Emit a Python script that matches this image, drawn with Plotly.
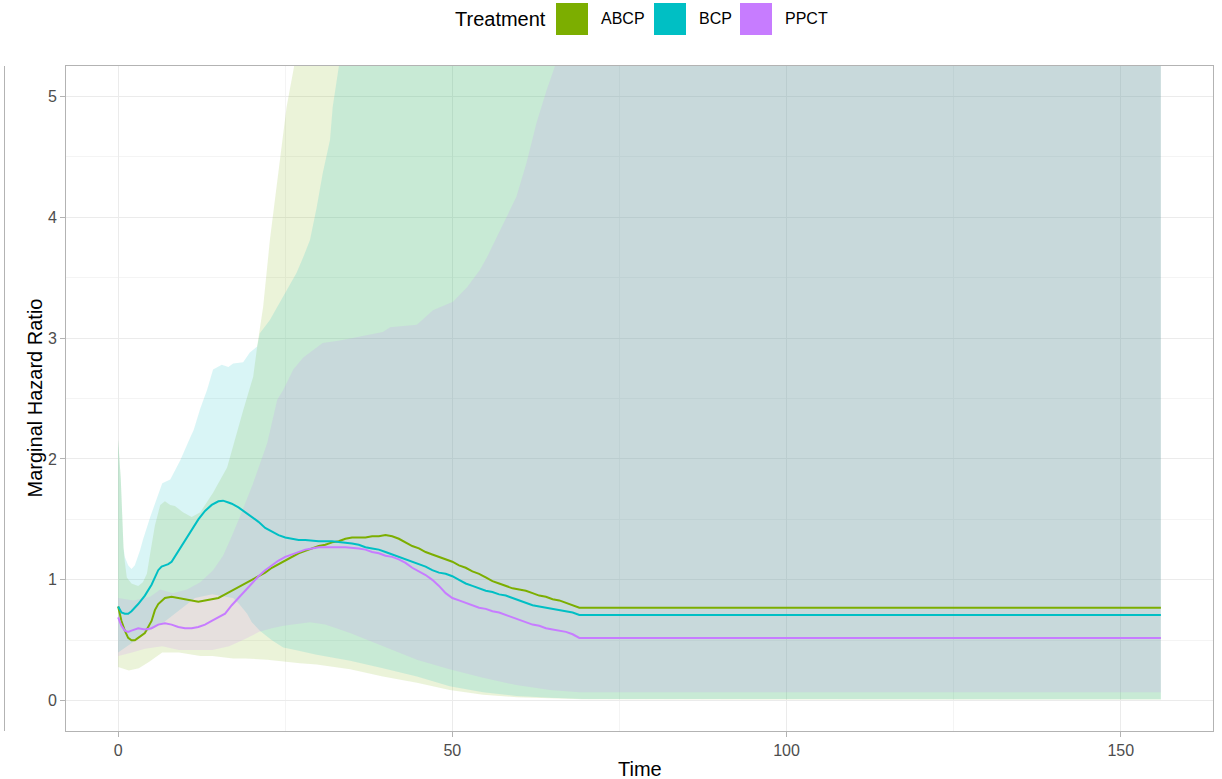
import plotly.graph_objects as go

# ---------------- data ----------------
treatments = ["ABCP", "BCP", "PPCT"]
colors = {"ABCP": "#7CAE00", "BCP": "#00BFC4", "PPCT": "#C77CFF"}
fill_alpha = 0.15

# point estimates
abcp_t = [0, 0.5, 1, 1.5, 2, 2.5, 3, 4, 5, 5.5, 6, 7, 8, 9, 10, 11, 12, 13, 14, 15, 16, 17, 18, 19, 20,
          21, 22, 23, 24, 25, 26, 27, 28, 29, 30, 31, 32, 33, 34, 35, 36, 37, 38, 39, 40, 41, 42, 43, 44,
          45, 46, 47, 48, 49, 50, 51, 52, 53, 54, 55, 56, 57, 58, 59, 60, 61, 62, 63, 64, 65, 66, 67, 68,
          69, 156]
abcp_est = [0.78, 0.66, 0.58, 0.52, 0.50, 0.50, 0.52, 0.56, 0.66, 0.75, 0.80, 0.85, 0.86, 0.85, 0.84,
            0.83, 0.82, 0.83, 0.84, 0.85, 0.88, 0.91, 0.94, 0.97, 1.00, 1.03, 1.06, 1.10, 1.13, 1.16,
            1.19, 1.22, 1.24, 1.26, 1.28, 1.29, 1.31, 1.32, 1.34, 1.35, 1.35, 1.35, 1.36, 1.36, 1.37,
            1.36, 1.34, 1.31, 1.28, 1.26, 1.23, 1.21, 1.19, 1.17, 1.15, 1.12, 1.10, 1.07, 1.05, 1.02,
            0.99, 0.97, 0.95, 0.93, 0.92, 0.91, 0.89, 0.87, 0.86, 0.84, 0.83, 0.81, 0.79, 0.77, 0.77]

bcp_t = [0, 0.5, 1, 1.5, 2, 2.5, 3, 4, 5, 6, 6.5, 7, 7.5, 8, 9, 10, 11, 12, 13, 14, 15, 15.7, 16.5, 17,
         18, 19, 20, 21, 22, 23, 24, 25, 26, 27, 28, 30, 32, 34, 35, 36, 37, 38, 39, 40, 41, 42, 43, 44,
         45, 46, 47, 48, 49, 50, 51, 52, 53, 54, 55, 56, 57, 58, 59, 60, 61, 62, 63, 64, 65, 66, 67, 68,
         69, 156]
bcp_est = [0.78, 0.73, 0.72, 0.72, 0.74, 0.77, 0.80, 0.87, 0.96, 1.08, 1.11, 1.12, 1.13, 1.15, 1.24,
           1.33, 1.42, 1.50, 1.57, 1.62, 1.65, 1.655, 1.64, 1.63, 1.60, 1.56, 1.52, 1.48, 1.43, 1.40,
           1.37, 1.35, 1.34, 1.33, 1.33, 1.32, 1.32, 1.31, 1.30, 1.29, 1.27, 1.26, 1.25, 1.23, 1.21,
           1.19, 1.17, 1.15, 1.13, 1.11, 1.08, 1.06, 1.05, 1.03, 1.00, 0.97, 0.95, 0.93, 0.91, 0.90,
           0.88, 0.87, 0.85, 0.83, 0.81, 0.79, 0.78, 0.77, 0.76, 0.75, 0.74, 0.73, 0.71, 0.71]

ppct_t = [0, 0.5, 1, 1.5, 2, 3, 4, 5, 6, 7, 8, 9, 10, 11, 12, 13, 14, 15, 16, 17, 18, 19, 20, 21, 22,
          23, 24, 25, 26, 27, 28, 29, 30, 32, 34, 36, 37, 38, 39, 40, 41, 42, 43, 44, 45, 46, 47, 48,
          49, 50, 51, 52, 53, 54, 55, 56, 57, 58, 59, 60, 61, 62, 63, 64, 65, 66, 67, 68, 69, 156]
ppct_est = [0.69, 0.62, 0.58, 0.57, 0.58, 0.60, 0.59, 0.60, 0.63, 0.64, 0.63, 0.61, 0.60, 0.60, 0.61,
            0.63, 0.66, 0.69, 0.72, 0.79, 0.85, 0.91, 0.97, 1.03, 1.08, 1.12, 1.16, 1.19, 1.21, 1.23,
            1.25, 1.26, 1.27, 1.27, 1.27, 1.26, 1.25, 1.23, 1.22, 1.20, 1.19, 1.17, 1.14, 1.10, 1.07,
            1.04, 1.00, 0.95, 0.89, 0.85, 0.83, 0.81, 0.79, 0.77, 0.76, 0.74, 0.73, 0.71, 0.69, 0.67,
            0.65, 0.63, 0.62, 0.60, 0.59, 0.58, 0.57, 0.55, 0.52, 0.52]

# confidence band, upper limits (values above 5.25 are clipped by the axis range)
abcp_up_t = [0, 0.4, 0.6, 0.8, 1.0, 1.3, 2, 3, 3.7, 4.3, 4.8, 5.5, 6.3, 7, 7.8, 8.5, 9.7, 11, 12.3, 14.2,
             16.3, 17.8, 18.7, 19.5, 20.2, 20.8, 21.7, 22.7, 23.8, 24.5, 25.2, 26.3, 28, 30, 35, 40, 50,
             69, 156]
abcp_up = [2.16, 1.83, 1.55, 1.27, 1.15, 1.02, 0.97, 0.95, 0.98, 1.05, 1.22, 1.45, 1.62, 1.65, 1.62,
           1.61, 1.56, 1.52, 1.56, 1.72, 1.93, 2.21, 2.40, 2.55, 2.68, 2.93, 3.26, 3.81, 4.31, 4.64,
           4.91, 5.24, 6.1, 7.2, 10.0, 13.0, 20.0, 30.0, 30.0]

bcp_up_t = [0, 0.4, 0.6, 0.8, 1.0, 1.5, 2, 2.5, 3.3, 3.7, 4.8, 6.3, 6.6, 7.8, 9.3, 10.8, 11.3, 12.3, 13.3,
            14.2, 15.5, 16.5, 17.2, 18.7, 19.7, 20.8, 21.2, 22.7, 25.2, 26.7, 27.7, 28.7, 29.7, 30.6,
            31.7, 32.1, 33, 35, 40, 50, 69, 156]
bcp_up = [2.16, 1.83, 1.55, 1.27, 1.19, 1.12, 1.09, 1.12, 1.25, 1.33, 1.52, 1.76, 1.80, 1.83, 1.99,
          2.18, 2.24, 2.42, 2.57, 2.74, 2.78, 2.76, 2.79, 2.80, 2.88, 2.93, 3.04, 3.15, 3.40, 3.54,
          3.67, 3.81, 4.08, 4.36, 4.64, 4.91, 5.24, 5.9, 7.5, 11.0, 18.0, 18.0]

ppct_up_t = [0, 2.3, 4.8, 6.3, 8.2, 10.3, 12.3, 14.2, 15.7, 16.3, 17, 18.2, 20.2, 22.3, 23.8, 24.7,
             26.2, 27.7, 30.6, 33.2, 36.6, 39.6, 40.7, 44.7, 47.1, 50.1, 52.2, 54.1, 55.2, 57.1, 59.6,
             61.1, 62.6, 64.1, 65.3, 68, 156]
ppct_up = [0.85, 0.83, 0.86, 0.92, 0.89, 0.92, 0.98, 1.08, 1.20, 1.27, 1.36, 1.52, 1.80, 2.13, 2.49,
           2.57, 2.74, 2.84, 2.96, 2.98, 3.02, 3.05, 3.09, 3.11, 3.23, 3.30, 3.42, 3.56, 3.67, 3.89,
           4.17, 4.45, 4.78, 5.05, 5.24, 5.8, 6.0]

# confidence band, lower limits
abcp_lo_t = [0, 1.6, 3.1, 4.6, 6.6, 9.1, 12.3, 14.1, 17.2, 19, 22.3, 24, 27.2, 29.7, 34.7, 39.6, 44.7,
             49.6, 54.6, 59.6, 64.6, 69.5, 156]
abcp_lo = [0.28, 0.25, 0.27, 0.32, 0.40, 0.40, 0.37, 0.37, 0.35, 0.35, 0.34, 0.33, 0.31, 0.30, 0.26,
           0.20, 0.15, 0.09, 0.05, 0.03, 0.02, 0.012, 0.01]

bcp_lo_t = [0, 2.1, 4, 6.6, 9.1, 11.5, 14.1, 16, 17.2, 18.1, 19.3, 20, 21.2, 23, 24.7, 26.5, 29.7, 34.7,
            39.6, 44.7, 49.6, 54.6, 59.6, 64.6, 69.5, 156]
bcp_lo = [0.40, 0.48, 0.56, 0.64, 0.75, 0.85, 0.88, 0.86, 0.85, 0.80, 0.72, 0.65, 0.58, 0.50, 0.44,
          0.42, 0.38, 0.33, 0.27, 0.20, 0.12, 0.07, 0.04, 0.025, 0.015, 0.012]

ppct_lo_t = [0, 2.1, 4, 6.6, 9.1, 11.5, 14.1, 16.6, 19, 21.1, 23, 24.7, 28.7, 31, 34.7, 39.6, 44.7,
             49.6, 54.6, 59.6, 64.6, 69, 156]
ppct_lo = [0.37, 0.40, 0.43, 0.45, 0.42, 0.42, 0.42, 0.45, 0.51, 0.57, 0.60, 0.62, 0.65, 0.63, 0.56,
           0.45, 0.34, 0.26, 0.19, 0.13, 0.09, 0.07, 0.07]

x_ticks = [0, 50, 100, 150]
y_ticks = [0, 1, 2, 3, 4, 5]
x_title = "Time"
y_title = "Marginal Hazard Ratio"
legend_title = "Treatment"

series = {
    "ABCP": (abcp_t, abcp_est, abcp_up_t, abcp_up, abcp_lo_t, abcp_lo),
    "BCP": (bcp_t, bcp_est, bcp_up_t, bcp_up, bcp_lo_t, bcp_lo),
    "PPCT": (ppct_t, ppct_est, ppct_up_t, ppct_up, ppct_lo_t, ppct_lo),
}

# ---------------- figure ----------------
W, H = 1222, 779
ML, MR, MT, MB = 66, 9, 66, 48
FONT = "Liberation Sans, Arial, sans-serif"


def rgba(hex_color, a):
    h = hex_color.lstrip("#")
    r, g, b = int(h[0:2], 16), int(h[2:4], 16), int(h[4:6], 16)
    return f"rgba({r},{g},{b},{a})"


def px_x(px):
    return (px - ML) / (W - ML - MR)


def px_y(py):
    return (H - MB - py) / (H - MT - MB)


fig = go.Figure()

# ribbons
for name in treatments:
    t, est, ut, up, lt, lo = series[name]
    fig.add_trace(go.Scatter(
        x=list(ut) + list(lt)[::-1],
        y=list(up) + list(lo)[::-1],
        fill="toself", fillcolor=rgba(colors[name], fill_alpha),
        line=dict(width=0), mode="lines", hoverinfo="skip", showlegend=False,
    ))

# lines
for name in treatments:
    t, est, *_ = series[name]
    fig.add_trace(go.Scatter(
        x=t, y=est, mode="lines", name=name,
        line=dict(color=colors[name], width=2), showlegend=False,
    ))

axis_common = dict(
    showline=True, mirror=True, linecolor="#B3B3B3", linewidth=1,
    ticks="outside", ticklen=5, tickcolor="#B3B3B3", tickwidth=1,
    showgrid=True, gridcolor="#EBEBEB", gridwidth=1, zeroline=False,
    tickfont=dict(family=FONT, size=16, color="#4D4D4D"),
    automargin=False,
)

fig.update_xaxes(
    range=[-7.8, 163.8], tickvals=x_ticks, ticktext=[str(v) for v in x_ticks],
    minor=dict(dtick=25, tick0=0, showgrid=True, gridcolor="#F4F4F4", gridwidth=1, ticks=""),
    **axis_common,
)
fig.update_yaxes(
    range=[-0.25, 5.25], tickvals=y_ticks, ticktext=[str(v) for v in y_ticks],
    minor=dict(dtick=0.5, tick0=0, showgrid=True, gridcolor="#F4F4F4", gridwidth=1, ticks=""),
    **axis_common,
)

shapes = []
annotations = []

# axis titles
annotations.append(dict(xref="paper", yref="paper", x=0.5, y=px_y(769), text=x_title,
                        showarrow=False, xanchor="center", yanchor="middle",
                        font=dict(family=FONT, size=20, color="black")))
annotations.append(dict(xref="paper", yref="paper", x=px_x(34), y=0.5, text=y_title, textangle=-90,
                        showarrow=False, xanchor="center", yanchor="middle",
                        font=dict(family=FONT, size=20, color="black")))

# border of neighbouring panel visible at the far left
shapes.append(dict(type="line", xref="paper", yref="y", x0=px_x(4.5), x1=px_x(4.5),
                   y0=-0.25, y1=5.25, line=dict(color="#B3B3B3", width=1)))

# legend (drawn manually to match the large ggplot keys)
annotations.append(dict(xref="paper", yref="paper", x=px_x(453), y=px_y(19), text=legend_title,
                        showarrow=False, xanchor="left", yanchor="middle",
                        font=dict(family=FONT, size=20, color="black")))
key_x = {"ABCP": 556, "BCP": 654, "PPCT": 740}
for name in treatments:
    x0 = key_x[name]
    shapes.append(dict(type="rect", xref="paper", yref="paper",
                       x0=px_x(x0), x1=px_x(x0 + 32), y0=px_y(35), y1=px_y(3),
                       fillcolor=colors[name], line=dict(width=0)))
    annotations.append(dict(xref="paper", yref="paper", x=px_x(x0 + 43), y=px_y(19), text=name,
                            showarrow=False, xanchor="left", yanchor="middle",
                            font=dict(family=FONT, size=16, color="black")))

fig.update_layout(
    width=W, height=H,
    margin=dict(l=ML, r=MR, t=MT, b=MB, pad=0),
    paper_bgcolor="white", plot_bgcolor="white",
    shapes=shapes, annotations=annotations,
    showlegend=False,
    font=dict(family=FONT),
)

fig.write_html("out.html")
